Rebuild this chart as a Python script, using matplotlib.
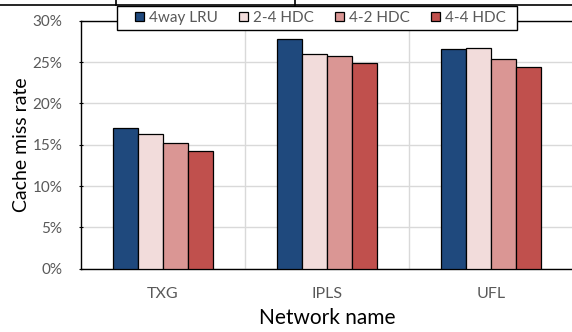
import matplotlib
matplotlib.use("Agg")
import matplotlib.pyplot as plt
from matplotlib.lines import Line2D
from matplotlib.patches import Rectangle
from matplotlib.ticker import FixedLocator, FuncFormatter
import numpy as np

categories = ["TXG", "IPLS", "UFL"]
series_names = ["4way LRU", "2-4 HDC", "4-2 HDC", "4-4 HDC"]
lru_4way = [17.0, 27.8, 26.6]
hdc_2_4 = [16.3, 26.0, 26.7]
hdc_4_2 = [15.2, 25.7, 25.4]
hdc_4_4 = [14.3, 24.9, 24.4]
yticks = [0, 5, 10, 15, 20, 25, 30]

series = [lru_4way, hdc_2_4, hdc_4_2, hdc_4_4]
colors = ["#1F497D", "#F2DCDB", "#DA9694", "#C0504D"]

plt.rcParams['font.family'] = ['Lato', 'DejaVu Sans']

W, H = 572, 332
fig = plt.figure(figsize=(W / 100, H / 100), dpi=100)
ax = fig.add_axes([81 / W, 63.5 / H, 492 / W, 247.5 / H])

x = np.arange(len(categories))
bw = 0.1525
for i, (vals, c, name) in enumerate(zip(series, colors, series_names)):
    ax.bar(x + (i - 1.5) * bw, vals, width=bw, color=c, edgecolor="black",
           linewidth=0.9, label=name, zorder=3)

ax.set_xlim(-0.5, 2.5)
ax.set_ylim(0, 30)
ax.set_yticks(yticks)
ax.yaxis.set_major_formatter(FuncFormatter(lambda v, p: f"{int(v)}%"))
ax.set_xticks(x)
ax.set_xticklabels(categories)
ax.xaxis.set_minor_locator(FixedLocator([0.5, 1.5]))
ax.grid(axis="y", which="major", color="#D9D9D9", linewidth=1.0, zorder=0)
ax.grid(axis="x", which="minor", color="#D9D9D9", linewidth=1.0, zorder=0)
ax.tick_params(axis="x", which="both", length=0, labelsize=11.5, colors="#595959", pad=13)
ax.tick_params(axis="y", length=3, direction="inout", labelsize=11, labelcolor="#595959", pad=12, color="black")
for s in ["left", "bottom", "top"]:
    ax.spines[s].set_color("black")
    ax.spines[s].set_linewidth(1.0)
ax.spines["right"].set_visible(False)

ax.set_ylabel("Cache miss rate", fontsize=14, color="black", labelpad=2)
ax.set_xlabel("Network name", fontsize=15, color="black", labelpad=5)

# legend box (white, black edge) drawn in figure pixels
box = Rectangle((117 / W, 1 - 30 / H), 400 / W, 24 / H, transform=fig.transFigure,
                facecolor="white", edgecolor="black", linewidth=1.0, zorder=5, clip_on=False)
ax.add_patch(box)
leg = ax.legend(loc="center", bbox_to_anchor=(320.5 / W, 1 - 18 / H),
                bbox_transform=fig.transFigure, ncol=4, frameon=False, fontsize=11,
                handlelength=0.6, handleheight=0.6, handletextpad=0.35,
                columnspacing=1.35, borderpad=0.0, borderaxespad=0)
leg.set_zorder(6)
for t in leg.get_texts():
    t.set_color("#595959")

# cropped table remnants at top
fig.add_artist(Line2D([0, 1], [1 - 5 / H, 1 - 5 / H], transform=fig.transFigure, color="black", linewidth=1.2))
for xv in [116, 295]:
    fig.add_artist(Line2D([xv / W, xv / W], [1 - 5 / H, 1], transform=fig.transFigure, color="black", linewidth=1.2))

fig.savefig("out.png", dpi=100)
